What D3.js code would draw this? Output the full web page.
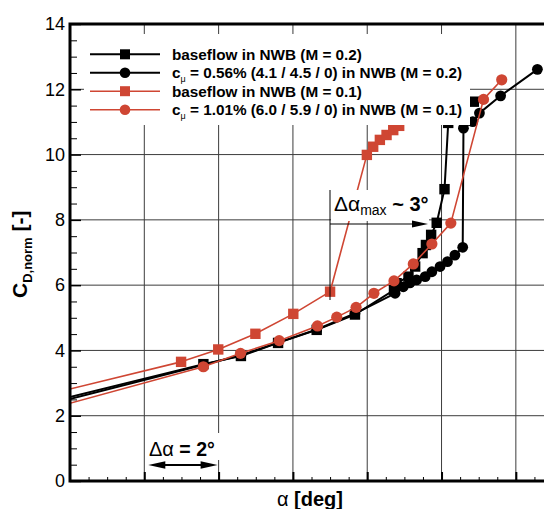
<!DOCTYPE html>
<html>
<head>
<meta charset="utf-8">
<script src="https://cdn.jsdelivr.net/npm/d3@7"></script>
<style>
  body { margin: 0; background: #fff; }
  svg { display: block; }
  text { font-family: "Liberation Sans", Arial, Helvetica, sans-serif; fill: #000; }
</style>
</head>
<body>
<svg id="chart" width="544" height="509"></svg>
<script>
// ---- data: angle of attack (deg, relative) vs normalised drag ----
const yTickValues = [0, 2, 4, 6, 8, 10, 12, 14];
const xGridValues = [2, 4, 6, 8, 10, 12];

const baseM02Alpha = [-1, 3.59, 4.60, 5.60, 6.64, 7.67, 8.72, 8.79, 9.11, 9.29, 9.49, 9.58, 9.72, 9.87, 10.08, 10.18, 10.87];
const baseM02Cd    = [2.29, 3.58, 3.83, 4.23, 4.63, 5.10, 5.85, 6.06, 6.26, 6.57, 6.98, 7.23, 7.54, 7.91, 8.94, 10.97, 11.62];

const cmuM02Alpha = [-1, 4.60, 5.60, 6.64, 7.67, 8.75, 8.97, 9.15, 9.33, 9.56, 9.74, 9.96, 10.16, 10.36, 10.57, 10.59, 10.84, 11.02, 11.59, 12.58];
const cmuM02Cd    = [2.22, 3.85, 4.24, 4.64, 5.13, 5.75, 5.95, 6.07, 6.16, 6.26, 6.41, 6.57, 6.72, 6.92, 7.16, 10.81, 11.01, 11.27, 11.80, 12.61];

const baseM01Alpha = [-1, 2.99, 3.99, 4.99, 6.01, 7.00, 7.99, 8.16, 8.34, 8.52, 8.70, 8.86];
const baseM01Cd    = [2.54, 3.65, 4.03, 4.51, 5.12, 5.80, 9.99, 10.24, 10.45, 10.60, 10.75, 10.88];

const cmuM01Alpha = [-1, 3.59, 4.59, 5.63, 6.66, 7.18, 7.70, 8.18, 8.72, 9.24, 9.74, 10.25, 11.13, 11.62];
const cmuM01Cd    = [2.07, 3.50, 3.91, 4.30, 4.75, 5.02, 5.32, 5.75, 6.13, 6.65, 7.26, 7.90, 11.69, 12.29];

const seriesNames = [
  "baseflow in NWB (M = 0.2)",
  "= 0.56% (4.1 / 4.5 / 0) in NWB (M = 0.2)",
  "baseflow in NWB (M = 0.1)",
  "= 1.01% (6.0 / 5.9 / 0) in NWB (M = 0.1)"
];

const BLACK = "#000";
const RED = "#cf4633";

const series = [
  { name: seriesNames[0], cmu: false, alpha: baseM02Alpha, cd: baseM02Cd, color: BLACK, shape: "square", lw: 2 },
  { name: seriesNames[1], cmu: true,  alpha: cmuM02Alpha,  cd: cmuM02Cd,  color: BLACK, shape: "circle", lw: 2 },
  { name: seriesNames[2], cmu: false, alpha: baseM01Alpha, cd: baseM01Cd, color: RED,   shape: "square", lw: 1.6 },
  { name: seriesNames[3], cmu: true,  alpha: cmuM01Alpha,  cd: cmuM01Cd,  color: RED,   shape: "circle", lw: 1.6 }
];

// ---- layout ----
const svg = d3.select("#chart");
const pL = 70, pR = 553, pT = 24, pB = 481;

const x = d3.scaleLinear().domain([0, 13]).range([pL, pR]);
const y = d3.scaleLinear().domain([0, 14]).range([pB, pT]);

svg.append("defs").append("clipPath").attr("id", "plot-clip")
  .append("rect").attr("x", pL).attr("y", pT)
  .attr("width", pR - pL).attr("height", pB - pT);

// grid
const grid = svg.append("g").attr("stroke", "#3c3c3c").attr("stroke-width", 1);
grid.selectAll("line.v").data(xGridValues).join("line").attr("class", "v")
  .attr("x1", d => x(d)).attr("x2", d => x(d))
  .attr("y1", pT).attr("y2", pB);
grid.selectAll("line.h").data(yTickValues.filter(d => d > 0 && d < 14)).join("line").attr("class", "h")
  .attr("x1", pL).attr("x2", pR)
  .attr("y1", d => y(d)).attr("y2", d => y(d));

// series
const plot = svg.append("g").attr("clip-path", "url(#plot-clip)");
series.forEach(s => {
  const pts = s.alpha.map((a, i) => [a, s.cd[i]]);
  const g = plot.append("g");
  g.append("path")
    .attr("d", d3.line().x(d => x(d[0])).y(d => y(d[1]))(pts))
    .attr("fill", "none").attr("stroke", s.color).attr("stroke-width", s.lw)
    .attr("stroke-linejoin", "round");
  if (s.shape === "square") {
    g.selectAll("rect").data(pts).join("rect")
      .attr("x", d => x(d[0]) - 5.2).attr("y", d => y(d[1]) - 5.2)
      .attr("width", 10.4).attr("height", 10.4).attr("fill", s.color);
  } else {
    g.selectAll("circle").data(pts).join("circle")
      .attr("cx", d => x(d[0])).attr("cy", d => y(d[1]))
      .attr("r", s.color === RED ? 5.6 : 5.4).attr("fill", s.color);
  }
});

// axes: ticks point into the plot
const majorY = d3.axisLeft(y).tickValues(yTickValues).tickSizeInner(-11).tickSizeOuter(0)
  .tickPadding(5).tickFormat(d3.format("d"));
const gy = svg.append("g").attr("transform", `translate(${pL},0)`).call(majorY);
gy.select(".domain").remove();
gy.selectAll(".tick line").attr("stroke-width", 1.5);
gy.selectAll(".tick text").attr("font-size", 18).attr("font-family", "Liberation Sans, Arial, sans-serif");

const minorYVals = d3.range(0, 14.01, 0.5).filter(v => v % 2 !== 0);
const gym = svg.append("g").attr("transform", `translate(${pL},0)`)
  .call(d3.axisLeft(y).tickValues(minorYVals).tickSizeInner(-7).tickSizeOuter(0).tickFormat(""));
gym.select(".domain").remove();

const gx = svg.append("g").attr("transform", `translate(0,${pB})`)
  .call(d3.axisBottom(x).tickValues(xGridValues).tickSizeInner(-9).tickSizeOuter(0).tickFormat(""));
gx.select(".domain").remove();
gx.selectAll(".tick line").attr("stroke-width", 2);

const minorXVals = d3.range(0.5, 13, 0.5).filter(v => v % 2 !== 0);
const gxm = svg.append("g").attr("transform", `translate(0,${pB})`)
  .call(d3.axisBottom(x).tickValues(minorXVals).tickSizeInner(-4).tickSizeOuter(0).tickFormat(""));
gxm.select(".domain").remove();

// frame
svg.append("rect").attr("x", pL).attr("y", pT)
  .attr("width", pR - pL).attr("height", pB - pT)
  .attr("fill", "none").attr("stroke", "#000").attr("stroke-width", 3);

// axis titles
const yTitle = svg.append("text")
  .attr("transform", "translate(27,298) rotate(-90)")
  .attr("font-weight", "bold").attr("font-size", 21);
yTitle.append("tspan").text("C");
yTitle.append("tspan").attr("font-size", 13).attr("dy", 5).text("D,norm");
yTitle.append("tspan").attr("dy", -5).text(" [-]");

const xTitle = svg.append("text").attr("x", 277).attr("y", 506)
  .attr("font-weight", "bold").attr("font-size", 20);
xTitle.append("tspan").attr("font-weight", "normal").text("α");
xTitle.append("tspan").text(" [deg]");

// legend
const legend = svg.append("g");
legend.append("rect").attr("x", 84).attr("y", 34).attr("width", 386).attr("height", 91).attr("fill", "#fff");
const rowY = [54.3, 72.7, 91.2, 109.8];
series.forEach((s, i) => {
  const ly = rowY[i];
  legend.append("line").attr("x1", 90).attr("x2", 160).attr("y1", ly).attr("y2", ly)
    .attr("stroke", s.color).attr("stroke-width", s.lw);
  if (s.shape === "square") {
    legend.append("rect").attr("x", 120).attr("y", ly - 5).attr("width", 10).attr("height", 10).attr("fill", s.color);
  } else {
    legend.append("circle").attr("cx", 125).attr("cy", ly).attr("r", 5.3).attr("fill", s.color);
  }
  const t = legend.append("text").attr("x", 172).attr("y", ly + 5.5)
    .attr("font-weight", "bold").attr("font-size", 15.3);
  if (s.cmu) {
    t.append("tspan").text("c");
    t.append("tspan").attr("font-size", 9).attr("font-weight", "normal").attr("dy", 4).text("μ");
    t.append("tspan").attr("dy", -4).text(" " + s.name);
  } else {
    t.text(s.name);
  }
});

// arrowheads
function arrowHead(g, tipX, tipY, dir, len, half) {
  const bx = tipX - dir * len;
  g.append("path").attr("d", `M${tipX},${tipY}L${bx},${tipY - half}L${bx},${tipY + half}Z`).attr("fill", "#000");
}

// stall-angle offset annotation
const ann1 = svg.append("g");
ann1.append("rect").attr("x", 331).attr("y", 190).attr("width", 98).attr("height", 31).attr("fill", "#fff");
ann1.append("line").attr("x1", 330).attr("x2", 330).attr("y1", 190).attr("y2", 300)
  .attr("stroke", "#000").attr("stroke-width", 1);
ann1.append("line").attr("x1", 330).attr("x2", 414).attr("y1", 224).attr("y2", 224)
  .attr("stroke", "#000").attr("stroke-width", 1.2);
arrowHead(ann1, 428, 224, 1, 16, 3.5);
const t1 = ann1.append("text").attr("x", 334).attr("y", 211).attr("font-size", 21);
t1.append("tspan").text("Δα");
t1.append("tspan").attr("font-size", 14).attr("dy", 4).text("max");
t1.append("tspan").attr("dy", -4).attr("font-weight", "bold").attr("font-size", 20).text(" ~ 3°");

// scale bar annotation
const ann2 = svg.append("g");
ann2.append("rect").attr("x", 147).attr("y", 433).attr("width", 73).attr("height", 27).attr("fill", "#fff");
ann2.append("line").attr("x1", x(2) + 14).attr("x2", x(4) - 14).attr("y1", 465).attr("y2", 465)
  .attr("stroke", "#000").attr("stroke-width", 2);
arrowHead(ann2, x(2) + 4, 465, -1, 17, 3.8);
arrowHead(ann2, x(4) - 1, 465, 1, 17, 3.8);
const t2 = ann2.append("text").attr("x", 149).attr("y", 456).attr("font-size", 20);
t2.append("tspan").text("Δα");
t2.append("tspan").attr("font-weight", "bold").attr("font-size", 19.5).text(" = 2°");
</script>
</body>
</html>
